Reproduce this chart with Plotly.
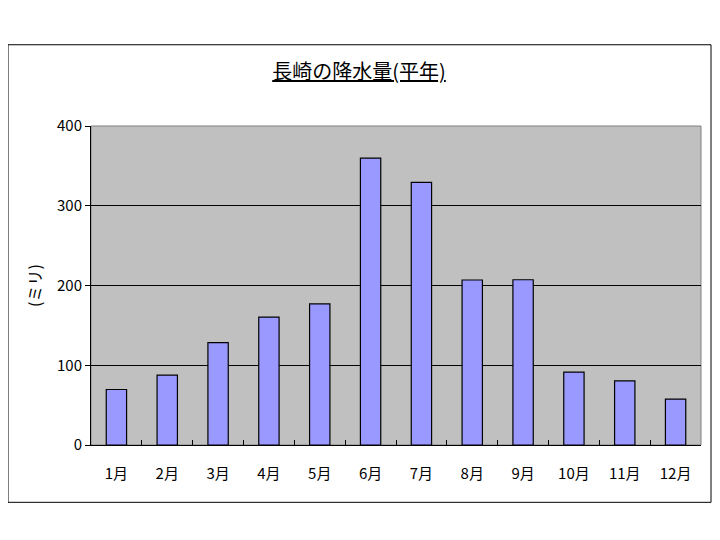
import plotly.graph_objects as go

months = ["1月", "2月", "3月", "4月", "5月", "6月", "7月", "8月", "9月", "10月", "11月", "12月"]
rain_mm = [69.6, 87.5, 128.4, 160.4, 176.9, 359.7, 329.4, 206.9, 207.2, 91.4, 80.3, 57.6]
y_ticks = [0, 100, 200, 300, 400]

FONT = "Noto Sans CJK JP"
OFF = 8  # browser default body margin

PL, PR, PT, PB = 91, 701, 125.5, 445.5  # plot area in screen pixels
W, H = 720, 540

fig = go.Figure(go.Bar(
    x=months, y=rain_mm,
    marker=dict(color="#9999FF", line=dict(color="black", width=1.2)),
    width=0.4,
))

fig.update_layout(
    width=W, height=H,
    margin=dict(l=PL - OFF, r=W - (PR - OFF), t=PT - OFF, b=H - (PB - OFF)),
    paper_bgcolor="white", plot_bgcolor="#C0C0C0",
    font=dict(family=FONT, size=15, color="black"),
    showlegend=False,
    title=dict(text="<u>長崎の降水量(平年)</u>", x=(359 - OFF) / W, xref="container",
               xanchor="center",
               y=1 - (72 - OFF) / H, yref="container", yanchor="middle",
               font=dict(family=FONT, size=20, color="black")),
)
fig.update_xaxes(
    showgrid=False, showline=True, linecolor="black", linewidth=1,
    ticks="inside", tickson="boundaries", ticklen=5, tickcolor="black",
    ticklabelstandoff=15,
)
fig.update_yaxes(
    range=[0, 400], tickvals=y_ticks, showgrid=True, gridcolor="black", gridwidth=1,
    showline=True, linecolor="black", linewidth=1, ticks="outside", ticklen=5,
    tickcolor="black", zeroline=False,
)
pw, ph = PR - PL, PB - PT
# plot area border (gray) and outer chart border (black)
fig.add_shape(type="rect", xref="paper", yref="paper", x0=0, x1=1, y0=0, y1=1,
              line=dict(color="#808080", width=1), layer="below")
fig.add_shape(type="rect", xref="paper", yref="paper",
              x0=(8 - PL) / pw, x1=(711 - PL) / pw,
              y0=(PB - 503) / ph, y1=(PB - 44) / ph,
              line=dict(color="black", width=1))
fig.add_annotation(text="(ミリ)", xref="paper", yref="paper",
                   x=(34 - PL) / pw, y=(PB - 286) / ph,
                   xanchor="center", yanchor="middle",
                   textangle=-90, showarrow=False,
                   font=dict(family=FONT, size=16, color="black"))

fig.write_html("out.html")
